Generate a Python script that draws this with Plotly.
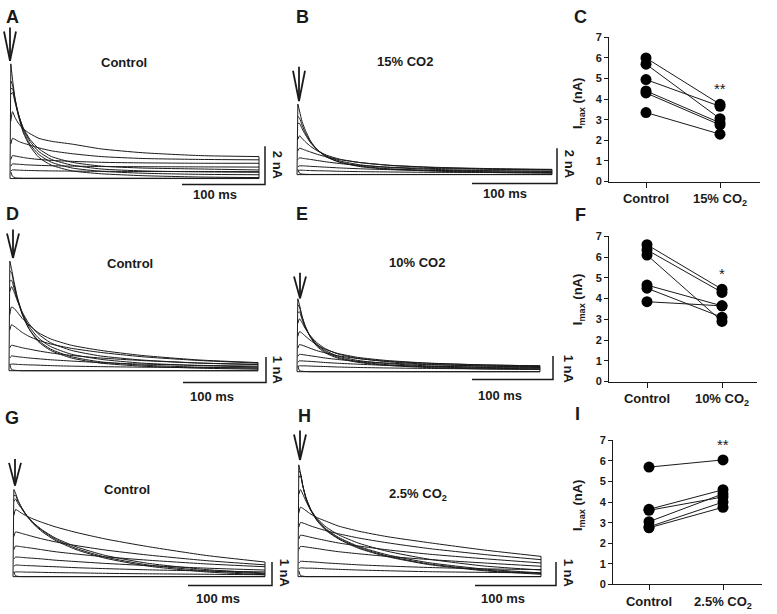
import plotly.graph_objects as go

W, H = 777, 614
FONT = "Liberation Sans, Arial, sans-serif"
INK = "#1a1a1a"

# ---------------- data ----------------
# time samples (ms) of the recorded current traces
T_MS = [1, 3, 6, 10, 16, 24, 35, 50, 75, 110, 160, 230, 300]

# A: Control (nA)
A_TRACES = [
    [6.0, 5.2, 4.2, 3.3, 2.4, 1.7, 1.1, 0.7, 0.4, 0.25, 0.15, 0.08, 0.05],
    [5.1, 4.9, 4.2, 3.4, 2.5, 1.8, 1.25, 0.85, 0.55, 0.38, 0.28, 0.22, 0.2],
    [4.7, 4.7, 4.1, 3.4, 2.6, 1.95, 1.4, 1.0, 0.7, 0.5, 0.4, 0.35, 0.33],
    [4.4, 4.5, 4.0, 3.35, 2.65, 2.05, 1.55, 1.15, 0.85, 0.65, 0.55, 0.5, 0.45],
    [3.0, 3.5, 3.2, 2.9, 2.6, 2.35, 2.1, 1.95, 1.8, 1.55, 1.35, 1.2, 1.15],
    [1.8, 2.1, 2.05, 1.95, 1.85, 1.75, 1.6, 1.45, 1.3, 1.15, 1.05, 1.0, 0.98],
    [1.0, 1.2, 1.18, 1.15, 1.1, 1.05, 1.0, 0.95, 0.9, 0.85, 0.82, 0.8, 0.8],
    [0.65, 0.77, 0.76, 0.75, 0.73, 0.71, 0.69, 0.67, 0.65, 0.63, 0.62, 0.61, 0.6],
    [0.4, 0.45, 0.45, 0.44, 0.43, 0.42, 0.41, 0.4, 0.39, 0.38, 0.37, 0.37, 0.36],
    [0.35, 0.12, 0.05, 0.03, 0.02, 0.02, 0.02, 0.02, 0.02, 0.02, 0.02, 0.02, 0.02],
]
# B: 15% CO2
B_TRACES = [
    [4.0, 3.6, 3.0, 2.5, 1.9, 1.4, 1.0, 0.7, 0.45, 0.3, 0.2, 0.12, 0.08],
    [3.3, 3.2, 2.8, 2.35, 1.85, 1.4, 1.0, 0.72, 0.48, 0.33, 0.23, 0.16, 0.12],
    [2.9, 2.9, 2.6, 2.25, 1.8, 1.4, 1.05, 0.78, 0.55, 0.4, 0.3, 0.22, 0.18],
    [2.0, 2.2, 2.05, 1.85, 1.6, 1.35, 1.1, 0.88, 0.68, 0.52, 0.4, 0.32, 0.28],
    [1.35, 1.5, 1.45, 1.38, 1.28, 1.15, 1.0, 0.85, 0.68, 0.53, 0.42, 0.34, 0.3],
    [0.85, 0.95, 0.93, 0.9, 0.86, 0.8, 0.72, 0.63, 0.52, 0.42, 0.35, 0.3, 0.27],
    [0.45, 0.5, 0.5, 0.49, 0.47, 0.45, 0.42, 0.38, 0.33, 0.28, 0.24, 0.21, 0.2],
    [0.22, 0.25, 0.25, 0.24, 0.23, 0.22, 0.21, 0.19, 0.17, 0.15, 0.13, 0.12, 0.11],
    [0.3, 0.08, 0.03, 0.02, 0.01, 0.01, 0.01, 0.01, 0.01, 0.01, 0.01, 0.01, 0.01],
]
# D: Control
D_TRACES = [
    [4.3, 4.0, 3.5, 2.9, 2.25, 1.65, 1.15, 0.8, 0.5, 0.3, 0.18, 0.1, 0.06],
    [3.9, 3.85, 3.4, 2.85, 2.2, 1.65, 1.2, 0.85, 0.55, 0.35, 0.22, 0.14, 0.1],
    [3.5, 3.55, 3.25, 2.8, 2.25, 1.75, 1.3, 0.95, 0.65, 0.45, 0.3, 0.2, 0.15],
    [3.1, 3.3, 3.1, 2.75, 2.3, 1.85, 1.45, 1.1, 0.8, 0.58, 0.42, 0.3, 0.25],
    [2.2, 2.5, 2.45, 2.3, 2.05, 1.8, 1.5, 1.25, 1.0, 0.8, 0.6, 0.42, 0.32],
    [1.6, 1.8, 1.75, 1.65, 1.5, 1.35, 1.2, 1.05, 0.88, 0.72, 0.55, 0.4, 0.3],
    [0.9, 1.0, 0.98, 0.95, 0.9, 0.85, 0.78, 0.7, 0.6, 0.5, 0.4, 0.3, 0.24],
    [0.5, 0.58, 0.57, 0.55, 0.53, 0.5, 0.47, 0.43, 0.38, 0.32, 0.26, 0.21, 0.18],
    [0.24, 0.26, 0.26, 0.25, 0.24, 0.23, 0.22, 0.2, 0.18, 0.16, 0.14, 0.12, 0.11],
    [0.25, 0.05, 0.02, 0.01, 0.0, 0.0, 0.0, 0.0, 0.0, 0.0, 0.0, 0.0, 0.0],
]
# E: 10% CO2
E_TRACES = [
    [3.1, 2.85, 2.4, 1.95, 1.5, 1.1, 0.8, 0.58, 0.4, 0.27, 0.18, 0.12, 0.1],
    [2.85, 2.75, 2.35, 1.95, 1.52, 1.15, 0.85, 0.62, 0.43, 0.3, 0.21, 0.15, 0.12],
    [2.5, 2.55, 2.25, 1.9, 1.52, 1.18, 0.9, 0.67, 0.48, 0.35, 0.25, 0.18, 0.15],
    [2.05, 2.25, 2.1, 1.85, 1.55, 1.25, 0.98, 0.76, 0.57, 0.43, 0.32, 0.24, 0.2],
    [1.5, 1.7, 1.65, 1.52, 1.35, 1.15, 0.95, 0.78, 0.61, 0.48, 0.37, 0.29, 0.25],
    [1.0, 1.15, 1.13, 1.08, 1.0, 0.9, 0.8, 0.68, 0.56, 0.45, 0.36, 0.29, 0.25],
    [0.65, 0.74, 0.73, 0.71, 0.68, 0.64, 0.58, 0.52, 0.44, 0.37, 0.3, 0.25, 0.22],
    [0.4, 0.46, 0.46, 0.45, 0.44, 0.42, 0.39, 0.36, 0.32, 0.27, 0.23, 0.2, 0.18],
    [0.22, 0.25, 0.25, 0.25, 0.24, 0.23, 0.22, 0.2, 0.18, 0.16, 0.14, 0.12, 0.1],
    [0.25, 0.05, 0.02, 0.01, 0.0, 0.0, 0.0, 0.0, 0.0, 0.0, 0.0, 0.0, 0.0],
]
# G: Control
G_TRACES = [
    [3.7, 3.55, 3.25, 2.95, 2.6, 2.25, 1.9, 1.55, 1.15, 0.78, 0.45, 0.2, 0.08],
    [3.45, 3.45, 3.2, 2.95, 2.62, 2.28, 1.95, 1.6, 1.2, 0.83, 0.5, 0.25, 0.12],
    [3.2, 3.3, 3.1, 2.9, 2.6, 2.3, 1.98, 1.65, 1.27, 0.9, 0.57, 0.3, 0.15],
    [2.6, 2.85, 2.8, 2.7, 2.58, 2.45, 2.3, 2.12, 1.88, 1.6, 1.28, 0.9, 0.62],
    [1.7, 1.9, 1.88, 1.84, 1.78, 1.7, 1.6, 1.48, 1.32, 1.13, 0.92, 0.68, 0.5],
    [1.15, 1.3, 1.29, 1.27, 1.24, 1.2, 1.14, 1.06, 0.96, 0.84, 0.7, 0.54, 0.42],
    [0.75, 0.83, 0.83, 0.82, 0.8, 0.78, 0.75, 0.7, 0.64, 0.56, 0.47, 0.36, 0.28],
    [0.44, 0.49, 0.49, 0.48, 0.47, 0.46, 0.44, 0.42, 0.38, 0.34, 0.29, 0.24, 0.2],
    [0.18, 0.2, 0.2, 0.2, 0.19, 0.19, 0.18, 0.17, 0.16, 0.14, 0.12, 0.1, 0.08],
    [0.2, 0.04, 0.01, 0.0, 0.0, 0.0, 0.0, 0.0, 0.0, 0.0, 0.0, 0.0, 0.0],
]
# H: 2.5% CO2
H_TRACES = [
    [4.75, 4.4, 3.85, 3.3, 2.8, 2.35, 1.95, 1.6, 1.2, 0.85, 0.52, 0.25, 0.1],
    [4.5, 4.4, 3.85, 3.32, 2.82, 2.38, 1.98, 1.63, 1.24, 0.88, 0.55, 0.28, 0.13],
    [4.2, 4.3, 3.85, 3.35, 2.85, 2.42, 2.02, 1.67, 1.28, 0.93, 0.6, 0.32, 0.16],
    [3.5, 3.7, 3.5, 3.2, 2.8, 2.45, 2.1, 1.78, 1.42, 1.08, 0.75, 0.45, 0.28],
    [2.7, 2.95, 2.9, 2.8, 2.65, 2.5, 2.35, 2.15, 1.93, 1.7, 1.45, 1.13, 0.86],
    [2.1, 2.3, 2.28, 2.23, 2.15, 2.06, 1.95, 1.82, 1.64, 1.44, 1.2, 0.94, 0.72],
    [1.6, 1.76, 1.75, 1.72, 1.67, 1.61, 1.53, 1.43, 1.3, 1.14, 0.96, 0.76, 0.58],
    [1.15, 1.28, 1.28, 1.26, 1.23, 1.19, 1.13, 1.06, 0.97, 0.86, 0.73, 0.58, 0.44],
    [0.58, 0.65, 0.65, 0.64, 0.63, 0.61, 0.58, 0.55, 0.5, 0.45, 0.39, 0.33, 0.3],
    [0.33, 0.37, 0.37, 0.36, 0.36, 0.35, 0.33, 0.31, 0.28, 0.25, 0.21, 0.18, 0.16],
    [0.25, 0.05, 0.02, 0.0, 0.0, 0.0, 0.0, 0.0, 0.0, 0.0, 0.0, 0.0, 0.0],
]

# Imax (nA) paired data
CATS_C = ["Control", "15% CO<sub>2</sub>"]
C_CTRL = [6.0, 5.7, 4.95, 4.4, 4.3, 3.35]
C_CO2 = [3.75, 3.05, 3.65, 2.85, 2.75, 2.3]
CATS_F = ["Control", "10% CO<sub>2</sub>"]
F_CTRL = [6.6, 6.35, 6.1, 4.65, 4.5, 3.85]
F_CO2 = [4.45, 4.3, 2.9, 3.65, 3.1, 3.65]
CATS_I = ["Control", "2.5% CO<sub>2</sub>"]
I_CTRL = [5.7, 3.65, 3.6, 3.05, 2.8, 2.75]
I_CO2 = [6.05, 4.6, 4.25, 4.4, 4.0, 3.75]
Y_TICKS = [0, 1, 2, 3, 4, 5, 6, 7]

# ---------------- layout helpers (pixel -> paper) ----------------
def fx(px):
    return px / W

def fy(py):
    return 1 - py / H

fig = go.Figure()
layout = dict(
    width=W, height=H, margin=dict(l=0, r=0, t=0, b=0),
    paper_bgcolor="white", plot_bgcolor="rgba(0,0,0,0)",
    showlegend=False, font=dict(family=FONT, color=INK),
)
annotations, shapes = [], []

def text(px, py, s, size=13, angle=0, xanchor="center"):
    annotations.append(dict(
        x=fx(px), y=fy(py), xref="paper", yref="paper", text=s, showarrow=False,
        textangle=angle, xanchor=xanchor, yanchor="middle",
        font=dict(family=FONT, size=size, color=INK, weight="bold")))

def arrow(px, top, tip, half=6):
    for x1 in (px - half, px, px + half):
        y1 = top + (4 if x1 != px else 0)
        shapes.append(dict(type="line", xref="paper", yref="paper",
                           x0=fx(x1), y0=fy(y1), x1=fx(px), y1=fy(tip),
                           line=dict(color=INK, width=1.8)))

# trace panels: t0 px, px/ms, baseline px, px/nA, box, scale nA, scale-bar y px, scale-bar x px
panels = [
    dict(tr=A_TRACES, x0=10, ppm=0.83, y0=176, ppn=19.5, box=(0, 292, 40, 200), sbn=2, sby=182, sbx=182),
    dict(tr=B_TRACES, x0=297, ppm=0.85, y0=172, ppn=18, box=(285, 580, 40, 200), sbn=2, sby=181, sbx=472),
    dict(tr=D_TRACES, x0=9, ppm=0.83, y0=372, ppn=26, box=(0, 292, 240, 400), sbn=1, sby=384, sbx=183),
    dict(tr=E_TRACES, x0=297, ppm=0.81, y0=373, ppn=24, box=(285, 580, 240, 400), sbn=1, sby=381, sbx=472),
    dict(tr=G_TRACES, x0=13, ppm=0.84, y0=582, ppn=24, box=(0, 292, 450, 605), sbn=1, sby=591, sbx=188),
    dict(tr=H_TRACES, x0=298, ppm=0.81, y0=582, ppn=24, box=(285, 580, 450, 605), sbn=1, sby=591, sbx=475),
]

for i, p in enumerate(panels, start=1):
    xa = "x" if i == 1 else f"x{i}"
    ya = "y" if i == 1 else f"y{i}"
    l, r, t, b = p["box"]
    layout["xaxis" if i == 1 else f"xaxis{i}"] = dict(
        domain=[fx(l), fx(r)], range=[(l - p["x0"]) / p["ppm"], (r - p["x0"]) / p["ppm"]],
        visible=False, anchor=ya)
    layout["yaxis" if i == 1 else f"yaxis{i}"] = dict(
        domain=[fy(b), fy(t)], range=[(p["y0"] - b) / p["ppn"], (p["y0"] - t) / p["ppn"]],
        visible=False, anchor=xa)
    for tr in p["tr"]:
        fig.add_trace(go.Scatter(x=T_MS, y=tr, mode="lines", xaxis=xa, yaxis=ya,
                                 line=dict(color=INK, width=1, shape="spline", smoothing=0.6),
                                 hoverinfo="skip"))
    # onset and offset of the recordings (vertical rise and fall)
    peak = max(max(tr) for tr in p["tr"])
    endv = max(tr[-1] for tr in p["tr"])
    fig.add_trace(go.Scatter(x=[0, T_MS[0]], y=[0, peak], mode="lines", xaxis=xa, yaxis=ya,
                             line=dict(color=INK, width=1), hoverinfo="skip"))
    fig.add_trace(go.Scatter(x=[T_MS[-1], T_MS[-1]], y=[0, endv], mode="lines", xaxis=xa, yaxis=ya,
                             line=dict(color=INK, width=1), hoverinfo="skip"))
    fig.add_trace(go.Scatter(x=[0, T_MS[-1]], y=[0, 0], mode="lines", xaxis=xa, yaxis=ya,
                             line=dict(color=INK, width=1), hoverinfo="skip"))
    # scale bars: 100 ms and sbn nA
    ts = (p["sbx"] - p["x0"]) / p["ppm"]
    ib = (p["y0"] - p["sby"]) / p["ppn"]
    fig.add_trace(go.Scatter(x=[ts, ts + 100, ts + 100], y=[ib, ib, ib + p["sbn"]], mode="lines",
                             xaxis=xa, yaxis=ya, line=dict(color=INK, width=1.5), hoverinfo="skip"))

# scatter panels
scat = [
    dict(ctrl=C_CTRL, co2=C_CO2, cats=CATS_C, yax=609, y0=179, y7=32, c0=646, c1=720, xr=760, star="**", ty=100),
    dict(ctrl=F_CTRL, co2=F_CO2, cats=CATS_F, yax=609, y0=383, y7=235, c0=647, c1=722, xr=757, star="*", ty=300),
    dict(ctrl=I_CTRL, co2=I_CO2, cats=CATS_I, yax=613, y0=590, y7=443, c0=649, c1=723, xr=762, star="**", ty=510),
]
for j, s in enumerate(scat, start=7):
    xa, ya = f"x{j}", f"y{j}"
    ppu = s["c1"] - s["c0"]
    layout[f"xaxis{j}"] = dict(
        domain=[fx(s["yax"]), fx(s["xr"])], range=[(s["yax"] - s["c0"]) / ppu, (s["xr"] - s["c0"]) / ppu],
        anchor=ya, showline=True, linecolor=INK, linewidth=1, ticks="outside", ticklen=5,
        tickcolor=INK, tickvals=[0, 1], ticktext=s["cats"], showgrid=False, zeroline=False,
        tickfont=dict(family=FONT, size=13, color=INK, weight="bold"))
    layout[f"yaxis{j}"] = dict(
        domain=[fy(s["y0"]), fy(s["y7"])], range=[0, 7], anchor=xa, showline=True,
        linecolor=INK, linewidth=1, ticks="outside", ticklen=4, tickcolor=INK,
        tickvals=Y_TICKS, showgrid=False, zeroline=False,
        tickfont=dict(family=FONT, size=11, color=INK, weight="bold"))
    for a, b in zip(s["ctrl"], s["co2"]):
        fig.add_trace(go.Scatter(x=[0, 1], y=[a, b], mode="lines+markers", xaxis=xa, yaxis=ya,
                                 line=dict(color=INK, width=1), cliponaxis=False,
                                 marker=dict(color="black", size=11), hoverinfo="skip"))
    annotations.append(dict(x=1, y=max(s["co2"]) + 0.75, xref=xa, yref=ya, text=s["star"],
                            showarrow=False, font=dict(family=FONT, size=15, color=INK)))
    text(578, s["ty"], "I<sub>max</sub> (nA)", size=13, angle=-90)

# panel letters
for lab, (px, py) in {"A": (12, 11), "B": (302, 11), "C": (580, 11), "D": (12, 212), "E": (302, 212),
                      "F": (580, 213), "G": (12, 420), "H": (304, 418), "I": (577, 416)}.items():
    text(px, py, lab, size=18)

# condition titles, scale-bar labels
text(124, 58, "Control"); text(405, 57, "15% CO2"); text(130, 263, "Control")
text(417, 262, "10% CO2"); text(127, 493, "Control"); text(418, 498, "2.5% CO<sub>2</sub>")
for (px, py) in [(215, 192), (505, 191), (212, 398), (500, 397), (218, 604), (503, 604)]:
    text(px, py, "100 ms")
for (px, py, s) in [(277, 162, "2 nA"), (569, 161, "2 nA"), (277, 371, "1 nA"), (568, 370, "1 nA"),
                    (284, 578, "1 nA"), (568, 578, "1 nA")]:
    text(px, py, s, angle=90)

# stimulus arrows
for (px, top, tip) in [(10, 22, 56), (299, 62, 97), (13, 228, 257), (300, 272, 298), (15, 462, 489), (300, 433, 463)]:
    arrow(px, top, tip)

layout["annotations"] = annotations
layout["shapes"] = shapes
fig.update_layout(**layout)
fig.write_html("out.html", config={"displayModeBar": False, "staticPlot": True},
               post_script="document.body.style.margin='0';document.body.style.overflow='hidden';")
